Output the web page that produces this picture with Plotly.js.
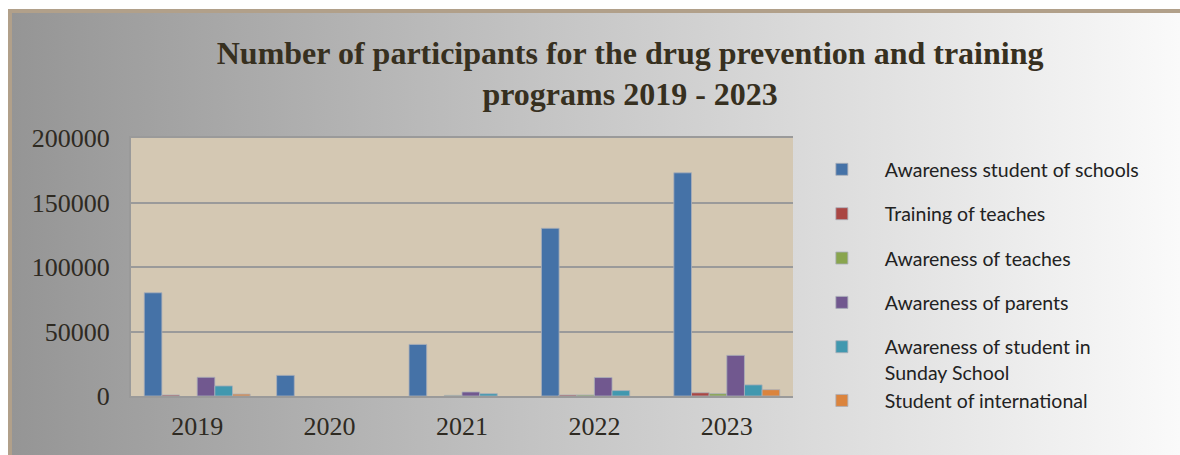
<!DOCTYPE html>
<html>
<head>
<meta charset="utf-8">
<script src="https://cdn.plot.ly/plotly-3.0.1.min.js"></script>
<style>
  html, body { margin: 0; padding: 0; background: #ffffff; width: 1180px; height: 455px; overflow: hidden; }
  #frame {
    position: absolute; left: 8px; top: 9px; width: 1180px; height: 460px;
    border-top: 4px solid #b1a08a; border-left: 4px solid #b1a08a;
    background: linear-gradient(to right, #959595 0%, #c4c4c4 45%, #fbfbfb 100%);
  }
  #chart { position: absolute; left: 0; top: 0; width: 1180px; height: 455px; }
</style>
</head>
<body>
<div id="frame"></div>
<div id="chart"></div>
<script>
const years = ['2019', '2020', '2021', '2022', '2023'];
const seriesNames = [
  'Awareness student of schools',
  'Training of teaches',
  'Awareness of teaches',
  'Awareness of parents',
  'Awareness of student in<br>Sunday School',
  'Student of international'
];
const awarenessStudentSchools = [80000, 16000, 40000, 130000, 173000];
const trainingTeaches = [800, null, null, 800, 2500];
const awarenessTeaches = [null, null, 500, 800, 1800];
const awarenessParents = [14500, null, 3100, 14300, 31500];
const awarenessSundaySchool = [7800, null, 1800, 4200, 8600];
const studentInternational = [1500, null, null, null, 4900];
const seriesColors = ['#4572a7', '#aa4643', '#89a54e', '#71588f', '#4198af', '#db843d'];
const legendGroups = ['g1', 'g2', 'g3', 'g4', 'g5', 'g5'];

const allValues = [awarenessStudentSchools, trainingTeaches, awarenessTeaches,
                   awarenessParents, awarenessSundaySchool, studentInternational];

const traces = allValues.map((vals, i) => ({
  type: 'bar',
  name: seriesNames[i],
  x: years,
  y: vals,
  legendgroup: legendGroups[i],
  marker: { color: seriesColors[i], line: { color: 'rgba(170,175,185,0.8)', width: 1 } },
  hoverinfo: 'x+y+name'
}));

const layout = {
  width: 1180,
  height: 455,
  paper_bgcolor: 'rgba(0,0,0,0)',
  plot_bgcolor: '#d4c8b3',
  margin: { l: 131, r: 387, t: 138, b: 59, pad: 0 },
  barmode: 'group',
  bargap: 0.2,
  bargroupgap: 0,
  title: {
    text: 'Number of participants for the drug prevention and training<br>programs 2019 - 2023',
    font: { family: 'Liberation Serif, Times New Roman, serif', size: 32, color: '#37301f', weight: 'bold' },
    xref: 'container', x: 0.534, xanchor: 'center',
    yref: 'container', y: 0.86, yanchor: 'top'
  },
  xaxis: {
    type: 'category',
    showline: true, linecolor: '#9a9a9a', linewidth: 2, mirror: true,
    showgrid: false, ticks: '',
    tickfont: { family: 'Liberation Serif, Times New Roman, serif', size: 26, color: '#2e2a22' },
    ticklabelstandoff: 6
  },
  yaxis: {
    range: [0, 200000],
    tickvals: [0, 50000, 100000, 150000, 200000],
    ticktext: ['0', '50000', '100000', '150000', '200000'],
    showline: true, linecolor: '#9a9a9a', linewidth: 2,
    showgrid: true, gridcolor: '#9a9a9a', gridwidth: 2,
    zeroline: false, ticks: '',
    tickfont: { family: 'Liberation Serif, Times New Roman, serif', size: 26, color: '#2e2a22' },
    ticklabelstandoff: 14
  },
  legend: {
    xref: 'container', yref: 'container',
    x: 0.677, xanchor: 'left',
    y: 0.67, yanchor: 'top',
    maxheight: 420,
    bgcolor: 'rgba(0,0,0,0)',
    font: { family: 'Lato, Open Sans, sans-serif', size: 19.5, color: '#222222' },
    traceorder: 'grouped',
    tracegroupgap: 16,
    itemwidth: 76,
    valign: 'top',
    itemclick: false, itemdoubleclick: false
  },
  showlegend: true
};

Plotly.newPlot('chart', traces, layout, { displayModeBar: false });
</script>
</body>
</html>
